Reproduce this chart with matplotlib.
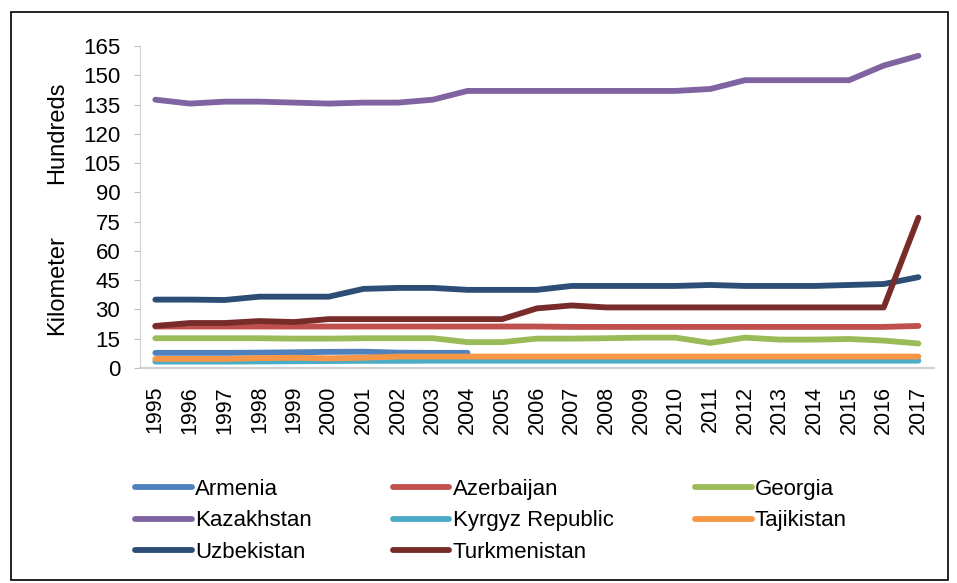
import matplotlib.pyplot as plt
from matplotlib.patches import Rectangle

plt.rcParams['font.family'] = ['Liberation Sans', 'DejaVu Sans']

years = list(range(1995, 2018))

armenia = [7.7, 7.7, 7.7, 7.8, 8.0, 8.2, 8.3, 7.8, 7.7, 7.7]
azerbaijan = [21.2, 21.2, 21.2, 21.2, 21.2, 21.2, 21.2, 21.2, 21.2, 21.2, 21.2, 21.2,
              21.0, 21.0, 21.0, 21.0, 21.0, 21.0, 21.0, 21.0, 21.0, 21.0, 21.5]
georgia = [15.2, 15.2, 15.2, 15.2, 15.0, 15.0, 15.2, 15.2, 15.2, 13.2, 13.2, 15.0,
           15.0, 15.2, 15.5, 15.5, 12.8, 15.5, 14.5, 14.5, 14.8, 14.0, 12.5]
kazakhstan = [137.5, 135.5, 136.5, 136.5, 136.0, 135.5, 136.0, 136.0, 137.5, 142.0, 142.0, 142.0,
              142.0, 142.0, 142.0, 142.0, 143.0, 147.5, 147.5, 147.5, 147.5, 155.0, 160.0]
kyrgyz = [3.2, 3.2, 3.2, 3.3, 3.4, 3.5, 3.6, 3.6, 3.7, 3.7, 3.7, 3.7,
          3.7, 3.7, 3.7, 3.7, 3.7, 3.7, 3.7, 3.7, 3.7, 3.7, 3.7]
tajikistan = [4.6, 4.6, 4.6, 5.0, 5.2, 4.9, 5.2, 5.8, 5.8, 5.8, 5.8, 5.8,
              5.8, 5.8, 5.8, 5.8, 5.8, 5.8, 5.8, 5.8, 5.8, 5.8, 5.8]
uzbekistan = [35.0, 35.0, 34.8, 36.5, 36.5, 36.5, 40.5, 41.0, 41.0, 40.0, 40.0, 40.0,
              42.0, 42.0, 42.0, 42.0, 42.5, 42.0, 42.0, 42.0, 42.5, 43.0, 46.5]
turkmenistan = [21.5, 23.0, 23.0, 24.0, 23.5, 25.0, 25.0, 25.0, 25.0, 25.0, 25.0, 30.5,
                32.0, 31.0, 31.0, 31.0, 31.0, 31.0, 31.0, 31.0, 31.0, 31.0, 77.0]

series = [
    ('Armenia', armenia, '#4f81bd'),
    ('Azerbaijan', azerbaijan, '#c0504d'),
    ('Georgia', georgia, '#9bbb59'),
    ('Kazakhstan', kazakhstan, '#8064a2'),
    ('Kyrgyz Republic', kyrgyz, '#4bacc6'),
    ('Tajikistan', tajikistan, '#f79646'),
    ('Uzbekistan', uzbekistan, '#2c4d75'),
    ('Turkmenistan', turkmenistan, '#772c2a'),
]

fig = plt.figure(figsize=(9.57, 5.83), dpi=100)
ax = fig.add_axes([0.146, 0.369, 0.83, 0.552])

for name, vals, col in series:
    ax.plot(years[:len(vals)], vals, color=col, lw=4.2, label=name,
            solid_capstyle='round', solid_joinstyle='round')

ax.set_ylim(0, 165)
ax.set_yticks(range(0, 166, 15))
ax.set_xlim(1994.55, 2017.45)
ax.set_xticks(years)
ax.set_xticklabels([str(y) for y in years], rotation=90)
ax.tick_params(axis='both', labelsize=16, colors='black')
ax.tick_params(axis='x', labelsize=15.5)
ax.tick_params(axis='y', length=4, color='#bfbfbf', pad=10)
ax.tick_params(axis='x', length=0, pad=13)
for s in ['top', 'right']:
    ax.spines[s].set_visible(False)
ax.spines['left'].set_color('#d0d0d0')
ax.spines['bottom'].set_color('#d0d0d0')
ax.spines['bottom'].set_linewidth(1.5)

fig.text(0.060, 0.773, 'Hundreds', rotation=90, fontsize=17, ha='center', va='center')
fig.text(0.060, 0.511, 'Kilometer', rotation=90, fontsize=17, ha='center', va='center')

# legend filled row by row like the original
handles, labels = ax.get_legend_handles_labels()
order = [0, 3, 6, 1, 4, 7, 2, 5]
leg = fig.legend([handles[i] for i in order], [labels[i] for i in order],
                 loc='upper left', bbox_to_anchor=(0.141, 0.178), ncol=3, frameon=False,
                 fontsize=16, handlelength=2.55, handletextpad=0.15, columnspacing=3.65,
                 labelspacing=0.46, borderaxespad=0, borderpad=0)
for ln in leg.get_lines():
    ln.set_linewidth(4.2)

fig.patches.append(Rectangle((0.011, 0.006), 0.98, 0.974, transform=fig.transFigure,
                             fill=False, edgecolor='black', lw=1.2))

fig.savefig('out.png', dpi=100)
